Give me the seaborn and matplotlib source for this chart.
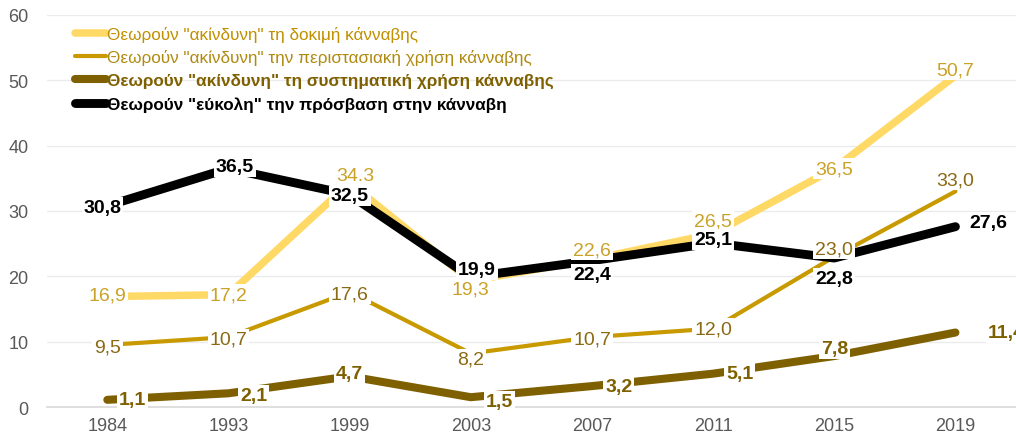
import matplotlib
matplotlib.use("Agg")
import matplotlib.pyplot as plt
import seaborn as sns
import pandas as pd
from matplotlib.lines import Line2D

years = ["1984", "1993", "1999", "2003", "2007", "2011", "2015", "2019"]
try_harmless = [16.9, 17.2, 34.3, 19.3, 22.6, 26.5, 36.5, 50.7]
occasional_harmless = [9.5, 10.7, 17.6, 8.2, 10.7, 12.0, 23.0, 33.0]
regular_harmless = [1.1, 2.1, 4.7, 1.5, 3.2, 5.1, 7.8, 11.4]
easy_access = [30.8, 36.5, 32.5, 19.9, 22.4, 25.1, 22.8, 27.6]
try_text = ["16,9", "17,2", "34.3", "19,3", "22,6", "26,5", "36,5", "50,7"]
occ_text = ["9,5", "10,7", "17,6", "8,2", "10,7", "12,0", "23,0", "33,0"]
reg_text = ["1,1", "2,1", "4,7", "1,5", "3,2", "5,1", "7,8", "11,4"]
easy_text = ["30,8", "36,5", "32,5", "19,9", "22,4", "25,1", "22,8", "27,6"]
series_names = [
    'Θεωρούν "ακίνδυνη" τη δοκιμή κάνναβης',
    'Θεωρούν "ακίνδυνη" την περιστασιακή χρήση κάνναβης',
    'Θεωρούν "ακίνδυνη" τη συστηματική χρήση κάνναβης',
    'Θεωρούν "εύκολη" την πρόσβαση στην κάνναβη',
]

sns.set_theme(style="white")
plt.rcParams["font.family"] = ["Liberation Sans", "DejaVu Sans"]

fig = plt.figure(figsize=(10.16, 4.39), dpi=100)
ax = fig.add_axes([0.046, 0.0706, 0.954, 0.8930])

xs = list(range(len(years)))
series = [try_harmless, occasional_harmless, regular_harmless, easy_access]
texts = [try_text, occ_text, reg_text, easy_text]
line_colors = ["#FFD966", "#C89A00", "#7F6000", "#000000"]
text_colors = ["#C9A227", "#8A6A12", "#7F6000", "#000000"]
widths = [5.4, 3.0, 5.8, 6.4]
weights = ["normal", "normal", "bold", "bold"]
# label offsets in data units (dx, dy)
offsets = [
    [(0, 0.3), (0, 0), (0.05, 1.1), (0, -1.2), (0, 1.5), (0, 2.0), (0, 0), (0, 0.9)],
    [(0, -0.3), (0, -0.3), (0, -0.3), (0, -0.9), (0, -0.3), (0, 0), (0, 1.2), (0, 1.8)],
    [(0.21, 0), (0.21, -0.3), (0, 0.5), (0.24, -0.6), (0.22, 0), (0.22, 0), (0, 1.2), (0.42, 0)],
    [(-0.04, -0.3), (0.05, 0.3), (0, -0.2), (0.05, 1.2), (0, -2.1), (0, 0.6), (0, -3.1), (0.27, 0.6)],
]

for i, (vals, col, lw) in enumerate(zip(series, line_colors, widths)):
    df = pd.DataFrame({"x": xs, "y": vals})
    sns.lineplot(data=df, x="x", y="y", ax=ax, color=col, linewidth=lw,
                 solid_capstyle="round", zorder=2 + i)

for i, (vals, labs) in enumerate(zip(series, texts)):
    for j, (v, t) in enumerate(zip(vals, labs)):
        dx, dy = offsets[i][j]
        ax.text(j + dx, v + dy, t, ha="center", va="center", fontsize=14,
                color=text_colors[i], fontweight=weights[i], zorder=10,
                bbox=dict(boxstyle="square,pad=0.1", fc="white", ec="none"),
                clip_on=False)

ax.set_xlim(-0.5, 7.5)
ax.set_ylim(0, 60)
ax.set_yticks([0, 10, 20, 30, 40, 50, 60])
ax.set_xticks(xs)
ax.set_xticklabels(years)
ax.tick_params(axis="both", length=0, labelsize=13, colors="#595959")
ax.tick_params(axis="x", pad=7)
ax.tick_params(axis="y", pad=13)
ax.set_xlabel("")
ax.set_ylabel("")
ax.grid(axis="y", color="#EBEBEB", linewidth=1)
ax.set_axisbelow(True)
for s in ["top", "right", "left"]:
    ax.spines[s].set_visible(False)
ax.spines["bottom"].set_color("#D9D9D9")
ax.spines["bottom"].set_linewidth(1.2)

handles = [Line2D([0], [0], color=c, linewidth=w, solid_capstyle="round")
           for c, w in zip(line_colors, widths)]
leg = ax.legend(handles, series_names, loc="upper left", bbox_to_anchor=(0.022, 0.99),
                frameon=False, fontsize=12.3, handlelength=1.8, handletextpad=0.1,
                labelspacing=0.45, borderaxespad=0)
leg_colors = ["#C09000", "#B08A10", "#7F6000", "#000000"]
for txt, c, w in zip(leg.get_texts(), leg_colors, weights):
    txt.set_color(c)
    txt.set_fontweight(w)

fig.savefig("out.png", dpi=100)
